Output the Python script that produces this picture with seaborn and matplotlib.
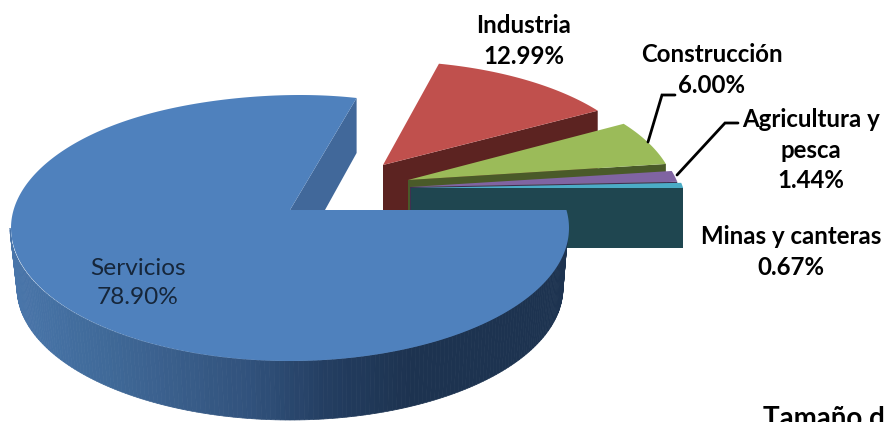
import numpy as np
import pandas as pd
import matplotlib
matplotlib.use('Agg')
import matplotlib.pyplot as plt
import seaborn as sns

# --- data ---
sectors = ['Servicios', 'Industria', 'Construcción', 'Agricultura y\npesca', 'Minas y canteras']
shares = [78.90, 12.99, 6.00, 1.44, 0.67]

# --- look of each slice: apex, ellipse, colours ---
apex_x = [290, 383, 408, 410, 411]
apex_y = [210, 165, 180, 187, 188]
radius_x = [279, 265, 268, 272, 275]
radius_y = [133, 120, 125, 125, 125]
centre_drop = [18, 16, 18, 18, 18]
rim_lean = [10, 0, 0, 0, 0]
top_colors = ['#4F81BD', '#C0504D', '#9BBB59', '#8064A2', '#4BACC6']
wall_colors = ['#41689A', '#5C2321', '#4A5A29', '#3F3051', '#1F4650']
label_x = [138, 524, 712, 811, 791]
label_y = [283, 41, 70, 150, 252]

df = pd.DataFrame({'sector': sectors, 'share': shares})
df['sweep'] = df['share'] / df['share'].sum() * 360

sns.set_theme(style='white')
plt.rcParams['font.family'] = ['Lato', 'DejaVu Sans']

fig, ax = plt.subplots(figsize=(8.86, 4.22), dpi=100)
ax.set_position([0, 0, 1, 1])
ax.set_xlim(0, 886)
ax.set_ylim(422, 0)
ax.axis('off')


def rim(i, t1, t2, n=120):
    # cast rays from the apex onto the slice's ellipse (apex sits above the ellipse centre)
    t = np.radians(np.linspace(t1, t2, n))
    p = centre_drop[i] / radius_y[i]
    dot = p * np.sin(t)
    s = -dot + np.sqrt(dot ** 2 + 1 - p ** 2)
    x = apex_x[i] + radius_x[i] * s * np.cos(t) + rim_lean[i] * np.clip(np.sin(t), 0, 1) ** 8
    y = apex_y[i] + centre_drop[i] - radius_y[i] * (p + s * np.sin(t))
    return x, y


# slices run clockwise from the top of the big one, the big one ends at 3 o'clock
starts = {0: 360 - df['sweep'].iloc[0]}
current = starts[0]
for i in range(1, len(df)):
    starts[i] = current - df['sweep'].iloc[i]
    current = starts[i]

DEPTH = 60
for i in range(1, len(df)):
    t1 = starts[i]
    t2 = t1 + df['sweep'].iloc[i]
    x, y = rim(i, t1, t2)
    # cut face below the lower edge of the slice
    ax.fill([apex_x[i], x[0], x[0], apex_x[i]],
            [apex_y[i], y[0], y[0] + DEPTH, apex_y[i] + DEPTH], color=wall_colors[i], lw=0)
    ax.fill(np.r_[apex_x[i], x], np.r_[apex_y[i], y], color=top_colors[i], lw=0)

# big slice: round wall as thin strips shaded left to right, inner cut, then the top
wall_palette = sns.blend_palette(['#4A76AB', '#416C9C', '#3A5F8C', '#31527C', '#233D60', '#1D3350', '#1D3350', '#1D3350'],
                                 n_colors=100)
strip_angles = np.radians(np.linspace(180, 360, 181))
cx_top, cy_top = apex_x[0] - 1, apex_y[0] + centre_drop[0]
cx_low, cy_low, rx_low, ry_low = 290, 288, 273, 132
for k in range(180):
    a = strip_angles[k:k + 2]
    x_top = cx_top + radius_x[0] * np.cos(a)
    y_top = cy_top - radius_y[0] * np.sin(a)
    x_low = cx_low + rx_low * np.cos(a)
    y_low = cy_low - ry_low * np.sin(a)
    shade = int(np.clip(x_top[0] / 570 * 99, 0, 99))
    ax.fill(np.r_[x_top, x_low[::-1]], np.r_[y_top, y_low[::-1]], color=wall_palette[shade], lw=0.5)

x, y = rim(0, starts[0], 360, n=300)
ax.fill([apex_x[0], x[0], x[0], apex_x[0] + 35],
        [apex_y[0], y[0], y[0] + 55, apex_y[0]], color=wall_colors[0], lw=0)
ax.fill(np.r_[apex_x[0], x], np.r_[apex_y[0], y], color=top_colors[0], lw=0)

# leader lines
ax.plot([648, 662, 675], [142, 95, 95], color='black', lw=2, solid_joinstyle='miter')
ax.plot([677, 725, 738], [175, 123, 123], color='black', lw=2, solid_joinstyle='miter')

# labels
for i, row in df.iterrows():
    ax.text(label_x[i], label_y[i], f"{row['sector']}\n{row['share']:.2f}%", ha='center', va='center',
            fontsize=17.6 if i == 0 else 17.3, linespacing=1.42, color='#16263A' if i == 0 else 'black',
            fontweight='normal' if i == 0 else 'bold')

# cut by the picture edge in the reference too
ax.text(763, 427, 'Tamaño d', ha='left', va='baseline', fontsize=20, fontweight='bold', color='black')

fig.savefig('out.png', dpi=100)
